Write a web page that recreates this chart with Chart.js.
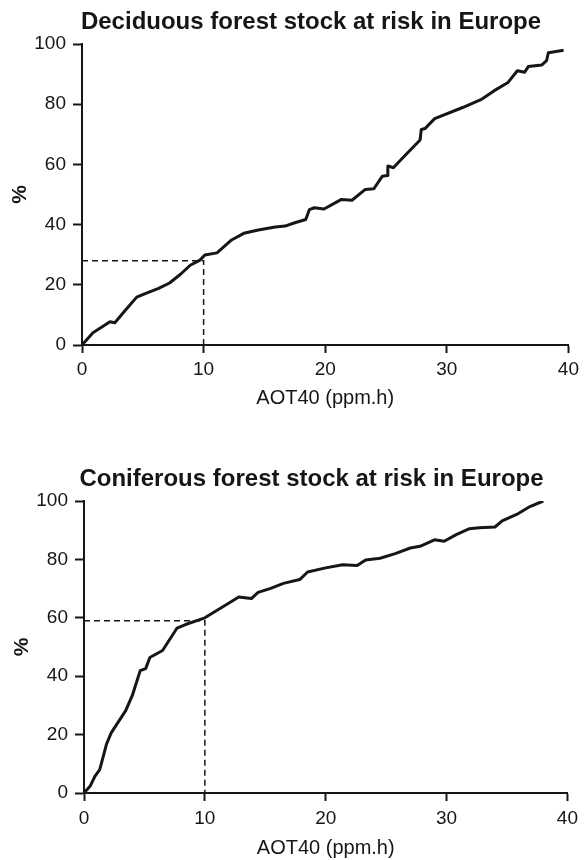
<!DOCTYPE html>
<html>
<head>
<meta charset="utf-8">
<title>Forest stock at risk in Europe</title>
<script src="https://cdn.jsdelivr.net/npm/chart.js@4.4.1/dist/chart.umd.min.js"></script>
<style>
  html, body { margin: 0; padding: 0; background: #fff; }
  #wrap { position: relative; width: 584px; height: 860px; }
  canvas { position: absolute; left: 0; }
  #chartDeciduous { top: 0; }
  #chartConiferous { top: 430px; }
</style>
</head>
<body>
<div id="wrap">
  <canvas id="chartDeciduous" width="584" height="420"></canvas>
  <canvas id="chartConiferous" width="584" height="430"></canvas>
</div>
<script>
/* -----------------------------------------
   Data
------------------------------------------ */
const xTicks = [0, 10, 20, 30, 40];
const yTicks = [0, 20, 40, 60, 80, 100];

// Deciduous (AOT40 ppm.h -> % of stock at risk)
const decidX = [0, 0.9, 2.3, 2.7, 3.6, 4.5, 5.2, 6.3, 7.2, 8.1,
  8.9, 9.7, 10.1, 11.1, 12.3, 13.3, 14.5, 15.9, 16.7, 17.5,
  18.4, 18.7, 19.1, 19.9, 21.3, 22.2, 23.3, 24.0, 24.7, 25.1,
  25.15, 25.6, 26.5, 27.8, 27.9, 28.2, 29.0, 31.3, 32.8, 33.9,
  35.0, 35.8, 36.4, 36.7, 37.8, 38.2, 38.35, 39.6];
const decidY = [0, 4.1, 7.7, 7.4, 11.7, 15.9, 17.1, 18.8, 20.6, 23.5,
  26.5, 28.2, 29.9, 30.6, 34.9, 37.1, 38.2, 39.2, 39.5, 40.6,
  41.7, 45.0, 45.6, 45.2, 48.3, 48.1, 51.7, 51.9, 56.1, 56.3,
  59.5, 58.9, 62.7, 68.1, 71.6, 71.9, 75.2, 78.9, 81.5, 84.5,
  87.1, 91.1, 90.6, 92.5, 93.0, 94.5, 97.1, 97.9];
const decidRefX = [0, 10, 10];
const decidRefY = [28, 28, 0];

// Coniferous
const conifX = [0, 0.5, 0.9, 1.3, 1.6, 1.85, 2.25, 2.8, 3.45, 4.0,
  4.65, 5.1, 5.45, 6.5, 7.7, 8.4, 10.0, 12.0, 12.8, 13.85,
  14.4, 15.45, 16.5, 17.85, 18.5, 20.0, 21.4, 22.6, 23.3, 24.5,
  25.75, 27.0, 27.8, 29.0, 29.8, 30.8, 31.9, 32.7, 34.0, 34.6,
  35.8, 36.9, 38.0];
const conifY = [0, 2.3, 5.7, 8.0, 12.6, 16.6, 20.6, 24.1, 28.2, 33.4,
  41.9, 42.6, 46.4, 48.8, 56.5, 57.7, 60.0, 65.1, 67.1, 66.6,
  68.7, 70.1, 71.8, 73.1, 75.7, 77.1, 78.2, 77.9, 79.8, 80.4,
  82.0, 83.9, 84.5, 86.7, 86.2, 88.5, 90.5, 90.8, 91.1, 93.2,
  95.4, 98.1, 100];
const conifRefX = [0, 10, 10];
const conifRefY = [59, 59, 0];

const FONT = "'Liberation Sans', Arial, Helvetica, sans-serif";
const INK = "#161616";

function toPoints(xs, ys) {
  return xs.map((x, i) => ({ x, y: ys[i] }));
}

// the printed titles sit a bit right of the canvas centre
const titleShift = {
  id: "titleShift",
  afterLayout(chart, args, opts) {
    const tb = chart.titleBlock;
    if (!tb) return;
    tb.left += opts.shift || 0;
    tb.right += opts.shift || 0;
  },
};

/* -----------------------------------------
   One panel: curve + dashed 10 ppm.h guide
------------------------------------------ */
function buildPanel(canvasId, title, curveX, curveY, refX, refY, lay) {
  const ctx = document.getElementById(canvasId);

  return new Chart(ctx, {
    type: "line",
    plugins: [titleShift],
    data: {
      datasets: [
        {
          data: toPoints(curveX, curveY),
          borderColor: INK,
          borderWidth: 3,
          pointRadius: 0,
          tension: 0,
          borderJoinStyle: "round",
        },
        {
          data: toPoints(refX, refY),
          borderColor: INK,
          borderWidth: 1.5,
          borderDash: [6, 4],
          pointRadius: 0,
          tension: 0,
        },
      ],
    },
    options: {
      responsive: false,
      animation: false,
      layout: { padding: { left: 0, right: lay.padRight, top: 0, bottom: 0 } },
      plugins: {
        legend: { display: false },
        tooltip: { enabled: false },
        titleShift: { shift: 25 },
        title: {
          display: true,
          text: title,
          color: INK,
          font: { family: FONT, size: 24, weight: "bold" },
          padding: lay.titlePad,
        },
      },
      scales: {
        x: {
          type: "linear",
          min: 0,
          max: 40,
          afterBuildTicks: (s) => { s.ticks = xTicks.map((v) => ({ value: v })); },
          afterFit: (s) => { s.height = lay.xHeight; },
          grid: { drawOnChartArea: false, drawTicks: true, tickLength: 8, tickWidth: 2, tickColor: INK },
          border: { display: true, width: 2, color: INK },
          ticks: { color: INK, padding: lay.xTickPad, maxRotation: 0, font: { family: FONT, size: 19 } },
          title: {
            display: true,
            text: "AOT40 (ppm.h)",
            color: INK,
            font: { family: FONT, size: 20 },
            padding: { top: 0, bottom: lay.xTitleBottom },
          },
        },
        y: {
          type: "linear",
          min: 0,
          max: 100,
          afterBuildTicks: (s) => { s.ticks = yTicks.map((v) => ({ value: v })); },
          afterFit: (s) => { s.width = lay.plotLeft; },
          grid: { drawOnChartArea: false, drawTicks: true, tickLength: 9, tickWidth: 2, tickColor: INK },
          border: { display: true, width: 2, color: INK },
          ticks: { color: INK, padding: 7, font: { family: FONT, size: 19 } },
          title: {
            display: true,
            text: "%",
            color: INK,
            font: { family: FONT, size: 21, weight: "bold" },
            padding: { top: lay.yTitleTop, bottom: 0 },
          },
        },
      },
    },
  });
}

buildPanel("chartDeciduous", "Deciduous forest stock at risk in Europe",
  decidX, decidY, decidRefX, decidRefY,
  { padRight: 12, titlePad: { top: 7.6, bottom: 7.6 }, xHeight: 75, xTickPad: 5,
    xTitleBottom: 9.4, plotLeft: 82, yTitleTop: 7.4 });

buildPanel("chartConiferous", "Coniferous forest stock at risk in Europe",
  conifX, conifY, conifRefX, conifRefY,
  { padRight: 11, titlePad: { top: 34.6, bottom: 7.6 }, xHeight: 67, xTickPad: 6,
    xTitleBottom: 0, plotLeft: 84, yTitleTop: 9.4 });
</script>
</body>
</html>
